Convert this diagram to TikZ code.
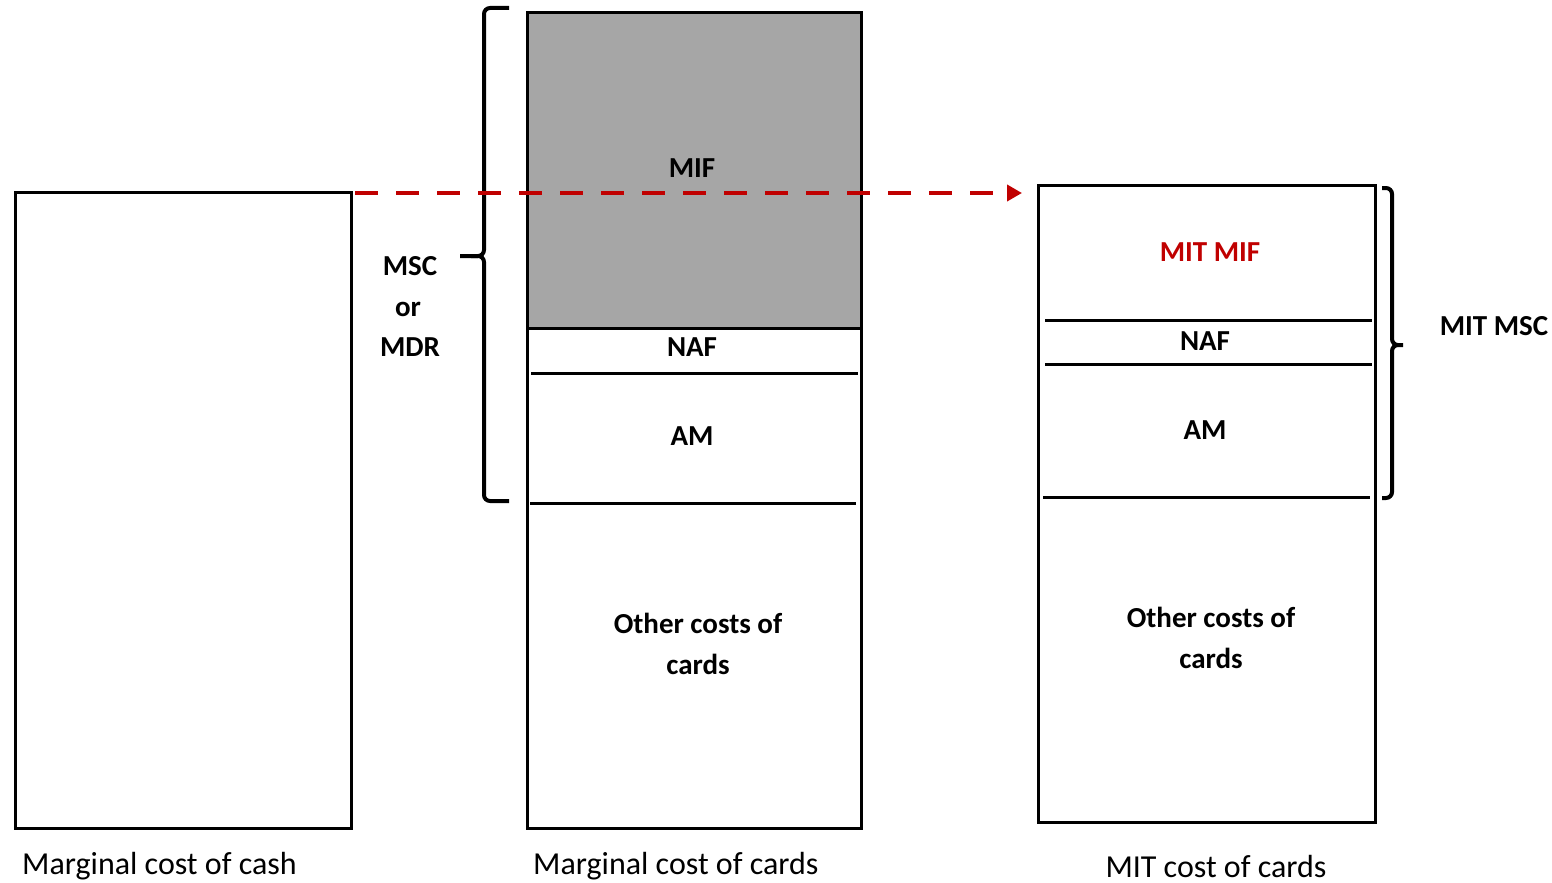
\documentclass[tikz,border=0pt]{standalone}
\usepackage{fontspec}
\setmainfont{Carlito}
\usetikzlibrary{arrows.meta}
\definecolor{mred}{HTML}{C00000}
\definecolor{mgray}{HTML}{A6A6A6}
\begin{document}
\begin{tikzpicture}[x=1pt,y=-1pt,
  box/.style={draw=black,line width=3pt,inner sep=0pt},
  sep/.style={line width=3pt},
  brace/.style={line width=4pt,rounded corners=6pt},
  lbl/.style={font=\fontsize{29}{36}\selectfont\bfseries,inner sep=0pt,align=center},
  captxt/.style={font=\fontsize{32}{36}\selectfont,inner sep=0pt},
  flow/.style={draw=mred,line width=4pt,dash pattern=on 23pt off 18pt,-{Triangle[length=15pt,width=16pt]}}]
\useasboundingbox (0,0) rectangle (1552,883);
% rectangles
\node[box,minimum width=336pt,minimum height=636pt] (cash) at (183,510) {};
\fill[mgray] (527,13) rectangle (861,328);
\node[box,minimum width=334pt,minimum height=815pt] (cards) at (694,420.5) {};
\draw[sep] (527,328) -- (861,328);
\draw[sep] (531,373) -- (858,373);
\draw[sep] (530,503) -- (856,503);
\node[box,minimum width=337pt,minimum height=637pt] (mit) at (1206.5,503.5) {};
\draw[sep] (1045,320) -- (1372,320);
\draw[sep] (1045,364) -- (1372,364);
\draw[sep] (1043,497) -- (1370,497);
% braces
\draw[brace] (509,8) -- (484,8) -- (484,256) -- (460,256);
\draw[brace] (471,256) -- (484,256) -- (484,501) -- (509,501);
\draw[brace] (1382,188) -- (1392,188) -- (1392,345) -- (1403,345);
\draw[brace] (1396,345) -- (1392,345) -- (1392,498) -- (1382,498);
% arrow
\coordinate (astart) at (355,193);
\coordinate (aend) at (1022,193);
\draw[flow] (astart) -- (aend);
% labels
\node[lbl] (mif) at (692,168) {MIF};
\node[lbl] (msc) at (410,266) {MSC};
\node[lbl] (or) at (408,309) {or};
\node[lbl] (mdr) at (410,347) {MDR};
\node[lbl] (naf1) at (692,347) {NAF};
\node[lbl] (am1) at (692,436) {AM};
\node[lbl,font=\fontsize{29}{41}\selectfont\bfseries] (oth1) at (698,644) {Other costs of\\cards};
\node[lbl,text=mred] (mitmif) at (1210,252) {MIT MIF};
\node[lbl] (naf2) at (1205,341) {NAF};
\node[lbl] (am2) at (1205,430) {AM};
\node[lbl,font=\fontsize{29}{41}\selectfont\bfseries] (oth2) at (1211,638) {Other costs of\\cards};
\node[lbl] (mitmsc) at (1494,326) {MIT MSC};
\node[captxt,anchor=west] (c1) at (22,866) {Marginal cost of cash};
\node[captxt,anchor=west] (c2) at (533,866) {Marginal cost of cards};
\node[captxt] (c3) at (1216,866) {MIT cost of cards};
\end{tikzpicture}
\end{document}
